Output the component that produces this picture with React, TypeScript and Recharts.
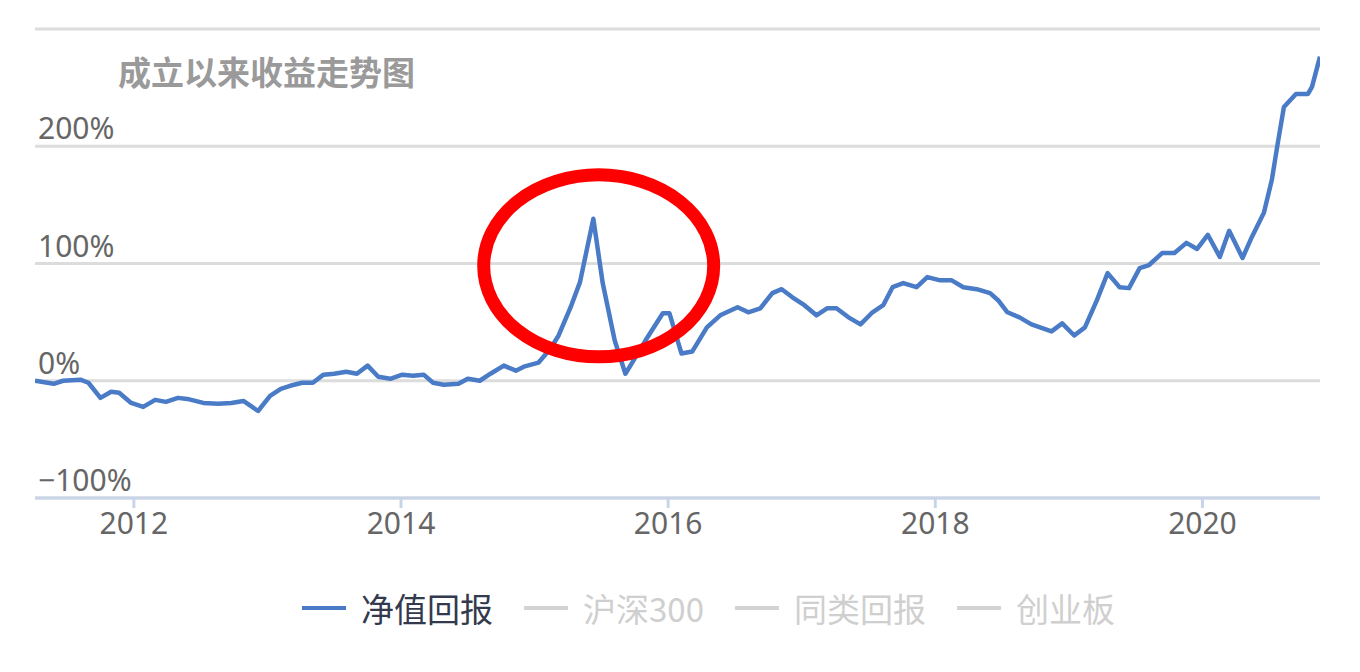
import React from 'react';
import { LineChart, Line, XAxis, YAxis, CartesianGrid, Legend, ReferenceDot } from 'recharts';

const dates = [
  2011.26, 2011.40, 2011.47, 2011.60, 2011.66, 2011.75, 2011.83, 2011.89, 2011.98, 2012.07,
  2012.16, 2012.24, 2012.33, 2012.40, 2012.52, 2012.63, 2012.73, 2012.82, 2012.93, 2013.02,
  2013.10, 2013.17, 2013.26, 2013.34, 2013.42, 2013.50, 2013.59, 2013.67, 2013.75, 2013.83,
  2013.92, 2014.01, 2014.09, 2014.17, 2014.24, 2014.32, 2014.43, 2014.50, 2014.59, 2014.67,
  2014.77, 2014.86, 2014.92, 2015.03, 2015.12, 2015.18, 2015.27, 2015.34, 2015.44, 2015.51,
  2015.60, 2015.68, 2015.74, 2015.83, 2015.96, 2016.01, 2016.10, 2016.18, 2016.29, 2016.39,
  2016.52, 2016.60, 2016.69, 2016.78, 2016.85, 2016.93, 2017.02, 2017.11, 2017.19, 2017.26,
  2017.35, 2017.44, 2017.53, 2017.61, 2017.68, 2017.76, 2017.86, 2017.94, 2018.03, 2018.12,
  2018.21, 2018.31, 2018.41, 2018.47, 2018.54, 2018.63, 2018.72, 2018.87, 2018.95, 2019.04,
  2019.12, 2019.21, 2019.29, 2019.38, 2019.45, 2019.53, 2019.60, 2019.70, 2019.79, 2019.88,
  2019.96, 2020.04, 2020.13, 2020.20, 2020.30, 2020.37, 2020.46, 2020.52, 2020.56, 2020.61,
  2020.70, 2020.79, 2020.82, 2020.88,
];

const netValueReturn = [
  0, -2.6, 0, 0.9, -1.7, -14.6, -9.4, -10.3, -18.9, -22.3,
  -16.3, -18.0, -14.6, -15.5, -18.9, -19.7, -18.9, -17.2, -25.8, -12.9,
  -6.9, -4.3, -1.7, -1.7, 5.2, 6.0, 7.7, 6.0, 12.9, 3.4,
  1.7, 5.2, 4.3, 5.2, -1.7, -3.4, -2.6, 1.7, 0, 6.0,
  12.9, 8.6, 12.0, 15.5, 27.5, 38.6, 62.7, 84.1, 138.2, 83.3,
  34.3, 6.0, 17.2, 34.3, 57.5, 57.5, 23.2, 24.9, 45.5, 55.8,
  62.7, 58.4, 61.8, 74.7, 78.1, 71.2, 64.4, 55.8, 61.8, 61.8,
  54.1, 48.1, 58.4, 64.4, 79.8, 83.3, 79.8, 88.4, 85.8, 85.8,
  79.8, 78.1, 74.7, 68.7, 58.4, 54.1, 48.1, 42.1, 48.9, 38.6,
  45.5, 68.7, 91.8, 79.8, 79.0, 96.1, 98.7, 109.0, 109.0, 117.6,
  112.4, 124.5, 105.6, 127.9, 104.7, 122.7, 143.3, 171.7, 200.0, 233.5,
  244.6, 244.6, 250.6, 276.4,
];

const xTicks = [2012, 2014, 2016, 2018, 2020];
const yTicks = [-100, 0, 100, 200, 300];
const hiddenYLabels = [300];
const xDomain = [2011.26, 2020.88];
const yDomain = [-100, 300];

const legendNames = ['净值回报', '沪深300', '同类回报', '创业板'];
const legendActive = [true, false, false, false];

const titleText = '成立以来收益走势图';

// annotation: circled peak (center in data coordinates)
const circleYear = 2015.48;
const circleValue = 98;

const data = dates.map((t, i) => ({ t, v: netValueReturn[i] }));

const BLUE = '#4a7bc6';

const YTick = (props: any) => {
  const { x, y, payload } = props;
  if (hiddenYLabels.includes(payload.value)) return null;
  const label = payload.value < 0 ? `\u2212${Math.abs(payload.value)}%` : `${payload.value}%`;
  return (
    <text x={x} y={y - 7} textAnchor="start" fill="#666" fontSize={30} fontFamily="'Noto Sans', sans-serif">
      {label}
    </text>
  );
};

const LegendContent = () => (
  <div style={{ display: 'flex', alignItems: 'center', height: 40, fontFamily: "'Noto Sans CJK SC', sans-serif", fontSize: 33 }}>
    {legendNames.map((name, i) => (
      <div key={name} style={{ display: 'flex', alignItems: 'center', marginRight: 31 }}>
        <div style={{ width: 44, height: 4, background: legendActive[i] ? BLUE : '#d3d3d3', marginRight: 15 }} />
        <span style={{ color: legendActive[i] ? '#333a4d' : '#cfcfcf', lineHeight: '40px' }}>{name}</span>
      </div>
    ))}
  </div>
);

const Ellipse = (props: any) => {
  const { cx, cy } = props;
  return <ellipse cx={cx} cy={cy} rx={115} ry={91} fill="none" stroke="#ff0000" strokeWidth={13} />;
};

export default function App() {
  return (
    <div style={{ position: 'absolute', left: 0, top: 0, width: 1360, height: 672, background: '#fff' }}>
      <LineChart width={1360} height={672} data={data} margin={{ top: 29, right: 40, bottom: 44, left: 35 }}>
        <CartesianGrid horizontal vertical={false} stroke="#dcdcdc" strokeWidth={3} />
        <XAxis
          dataKey="t"
          type="number"
          domain={xDomain}
          ticks={xTicks}
          allowDataOverflow
          height={90}
          axisLine={{ stroke: '#c8d5e9', strokeWidth: 3 }}
          tickLine={{ stroke: '#c8d5e9', strokeWidth: 3 }}
          tickSize={10}
          tickMargin={5}
          tick={{ fill: '#666', fontSize: 30, fontFamily: "'Noto Sans', sans-serif" }}
        />
        <YAxis
          type="number"
          domain={yDomain}
          ticks={yTicks}
          mirror
          axisLine={false}
          tickLine={false}
          tickSize={0}
          tickMargin={3}
          tick={<YTick />}
        />
        <Legend
          verticalAlign="bottom"
          content={<LegendContent />}
          wrapperStyle={{ left: 302, width: 'auto', height: 40 }}
        />
        <Line
          type="linear"
          dataKey="v"
          stroke={BLUE}
          strokeWidth={4.5}
          dot={false}
          activeDot={false}
          strokeLinejoin="round"
          isAnimationActive={false}
        />
        <ReferenceDot x={circleYear} y={circleValue} r={0} shape={<Ellipse />} ifOverflow="visible" />
      </LineChart>
      <div
        style={{
          position: 'absolute',
          left: 118,
          top: 55,
          fontSize: 33,
          lineHeight: '33px',
          fontWeight: 'bold',
          color: '#9a9a9a',
          fontFamily: "'Noto Sans CJK SC', sans-serif",
        }}
      >
        {titleText}
      </div>
    </div>
  );
}
